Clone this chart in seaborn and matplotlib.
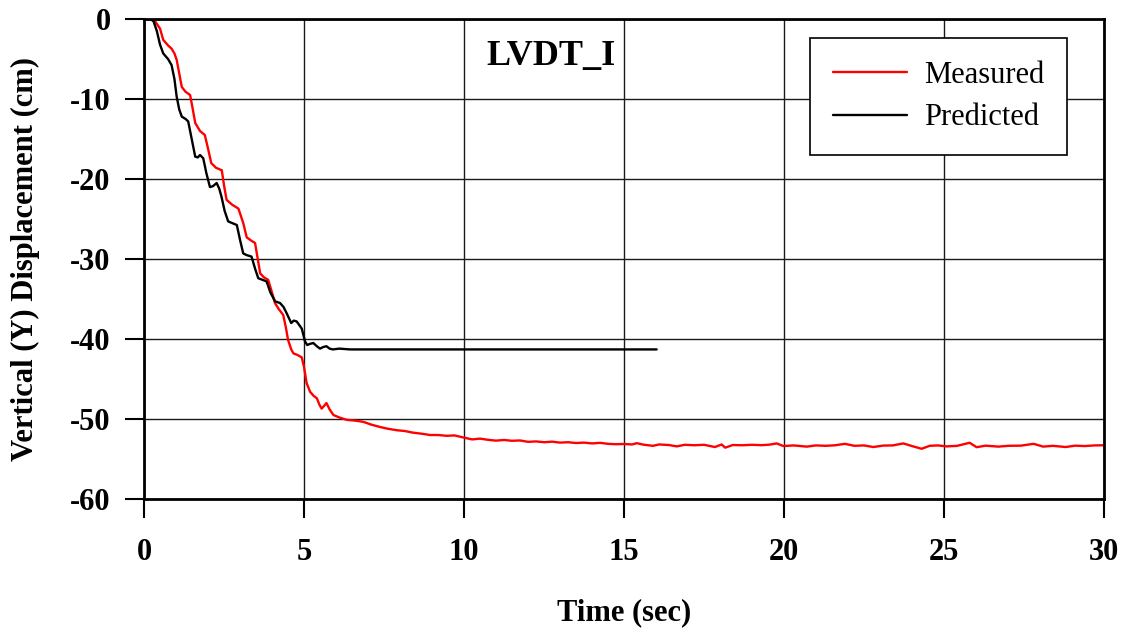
import matplotlib
matplotlib.use("Agg")
import matplotlib.pyplot as plt
import seaborn as sns
import pandas as pd

# Measured LVDT_I vertical displacement (cm) vs time (sec)
measured_t = [
    0.0, 0.2, 0.35, 0.5, 0.6, 0.75, 0.86, 0.95, 1.02, 1.1, 1.18, 1.3, 1.44,
    1.52, 1.6, 1.75, 1.9, 2.0, 2.1, 2.25, 2.43, 2.5, 2.58, 2.75, 2.95, 3.1,
    3.21, 3.35, 3.47, 3.55, 3.63, 3.75, 3.88, 4.0, 4.09, 4.2, 4.35, 4.43, 4.5,
    4.6, 4.67, 4.8, 4.93, 5.0, 5.08, 5.19, 5.3, 5.4, 5.48, 5.55, 5.62, 5.7,
    5.8, 5.92, 6.1, 6.33, 6.6, 6.85, 7.1, 7.38, 7.6, 7.9, 8.15, 8.4, 8.7,
    8.94, 9.2, 9.46, 9.7, 9.98, 10.25, 10.5, 10.75, 11.0, 11.25, 11.5, 11.75,
    12.0, 12.25, 12.5, 12.75, 13.0, 13.25, 13.5, 13.75, 14.0, 14.25, 14.5,
    14.75, 15.0, 15.25, 15.4, 15.6, 15.9, 16.1, 16.4, 16.65, 16.9, 17.2, 17.5,
    17.84, 18.05, 18.16, 18.4, 18.7, 19.0, 19.3, 19.55, 19.77, 19.98, 20.3,
    20.71, 21.0, 21.3, 21.6, 21.9, 22.2, 22.5, 22.79, 23.1, 23.4, 23.73, 24.0,
    24.3, 24.55, 24.8, 25.08, 25.4, 25.8, 26.02, 26.3, 26.7, 27.0, 27.4, 27.8,
    28.1, 28.4, 28.8, 29.1, 29.4, 29.7, 30.0,
]
measured_y = [
    0.0, 0.0, -0.3, -1.2, -2.6, -3.3, -3.7, -4.3, -5.1, -6.8, -8.5, -9.1, -9.5,
    -11.2, -13.0, -14.0, -14.5, -16.2, -18.0, -18.6, -18.9, -20.8, -22.6,
    -23.2, -23.7, -25.5, -27.3, -27.7, -28.0, -29.9, -31.8, -32.3, -32.6,
    -34.2, -35.5, -36.2, -37.0, -38.5, -40.1, -41.3, -41.8, -42.0, -42.3,
    -43.5, -45.5, -46.6, -47.1, -47.4, -48.2, -48.7, -48.4, -48.0, -48.8,
    -49.5, -49.8, -50.1, -50.2, -50.35, -50.7, -51.0, -51.2, -51.4, -51.5,
    -51.7, -51.85, -52.0, -52.0, -52.1, -52.05, -52.3, -52.55, -52.45, -52.6,
    -52.7, -52.62, -52.72, -52.68, -52.85, -52.8, -52.9, -52.83, -52.95,
    -52.9, -53.0, -52.95, -53.05, -52.98, -53.1, -53.15, -53.12, -53.18,
    -53.02, -53.2, -53.35, -53.18, -53.25, -53.42, -53.22, -53.28, -53.22,
    -53.5, -53.18, -53.58, -53.25, -53.28, -53.22, -53.27, -53.2, -53.05,
    -53.38, -53.3, -53.45, -53.3, -53.35, -53.28, -53.1, -53.35, -53.3,
    -53.5, -53.32, -53.3, -53.05, -53.38, -53.72, -53.35, -53.3, -53.42,
    -53.36, -52.97, -53.52, -53.33, -53.45, -53.35, -53.33, -53.1, -53.45,
    -53.35, -53.5, -53.33, -53.38, -53.3, -53.28,
]

# Predicted response
predicted_t = [
    0.0, 0.2, 0.3, 0.4, 0.5, 0.6, 0.75, 0.86, 0.95, 1.02, 1.1, 1.18, 1.3,
    1.38, 1.5, 1.6, 1.68, 1.75, 1.85, 1.95, 2.06, 2.15, 2.27, 2.35, 2.42,
    2.52, 2.63, 2.75, 2.9, 3.0, 3.1, 3.2, 3.36, 3.47, 3.57, 3.7, 3.83, 3.95,
    4.1, 4.25, 4.36, 4.46, 4.6, 4.68, 4.77, 4.93, 5.03, 5.1, 5.19, 5.29, 5.4,
    5.5, 5.6, 5.7, 5.8, 5.9, 6.1, 6.44, 16.02,
]
predicted_y = [
    0.0, 0.0, -0.3, -1.5, -3.2, -4.3, -5.0, -5.75, -7.5, -9.7, -11.3, -12.2,
    -12.5, -12.8, -15.2, -17.2, -17.3, -17.0, -17.4, -19.3, -21.0, -20.9,
    -20.5, -21.2, -22.2, -24.0, -25.3, -25.5, -25.75, -27.6, -29.3, -29.5,
    -29.7, -31.2, -32.4, -32.6, -32.8, -34.2, -35.3, -35.5, -36.0, -36.8,
    -38.0, -37.7, -37.8, -38.7, -40.3, -40.75, -40.6, -40.5, -40.9, -41.2,
    -41.0, -40.9, -41.2, -41.3, -41.2, -41.3, -41.3,
]

series_names = ["Measured", "Predicted"]
series_colors = ["#ff0000", "#000000"]
x_ticks = [0, 5, 10, 15, 20, 25, 30]
y_ticks = [0, -10, -20, -30, -40, -50, -60]

df = pd.concat([
    pd.DataFrame({"Time": measured_t, "Disp": measured_y, "Series": series_names[0]}),
    pd.DataFrame({"Time": predicted_t, "Disp": predicted_y, "Series": series_names[1]}),
], ignore_index=True)

sns.set_style("ticks")
plt.rcParams["font.family"] = ["Liberation Serif", "DejaVu Serif"]
plt.rcParams["text.color"] = "black"
plt.rcParams["axes.labelcolor"] = "black"
plt.rcParams["xtick.color"] = "black"
plt.rcParams["ytick.color"] = "black"

fig = plt.figure(figsize=(11.27, 6.34), dpi=100)
ax = fig.add_axes([0.1278, 0.2129, 0.8518, 0.7571])

sns.lineplot(data=df, x="Time", y="Disp", hue="Series",
             palette=dict(zip(series_names, series_colors)),
             estimator=None, sort=False, linewidth=1.7, ax=ax)

ax.set_xlim(0, 30)
ax.set_ylim(-60, 0)
ax.set_xticks(x_ticks)
ax.set_yticks(y_ticks)
ax.set_xticklabels([str(v) for v in x_ticks])
ax.set_yticklabels([str(v) for v in y_ticks])
ax.grid(True, color="#1a1a1a", linewidth=1.0)
ax.set_axisbelow(True)

for sp in ax.spines.values():
    sp.set_visible(True)
    sp.set_linewidth(2.0)
    sp.set_color("black")

ax.tick_params(axis="both", direction="out", length=14, width=1.5,
               color="black", labelcolor="black", labelsize=22)
ax.tick_params(axis="y", pad=10)
ax.tick_params(axis="x", pad=14)
for lab in ax.get_xticklabels() + ax.get_yticklabels():
    lab.set_fontweight("bold")

ax.set_xlabel("Time (sec)", fontsize=22, fontweight="bold", color="black")
ax.set_ylabel("Vertical (Y) Displacement (cm)", fontsize=22,
              fontweight="bold", color="black")
ax.xaxis.set_label_coords(0.5, -0.2375)
ax.xaxis.label.set_va("center")
ax.yaxis.set_label_coords(-0.124, 0.5)
ax.yaxis.label.set_va("center")

ax.text(0.424, 0.922, "LVDT_I", transform=ax.transAxes, ha="center",
        va="center", fontsize=26, fontweight="bold", color="black")

handles, labels = ax.get_legend_handles_labels()
leg = ax.legend(handles, labels, loc="upper right",
                bbox_to_anchor=(0.9615, 0.9604), borderaxespad=0,
                fontsize=22, frameon=True, fancybox=False, framealpha=1,
                edgecolor="black", handlelength=2.45, handletextpad=0.55,
                labelspacing=0.45, borderpad=0.74)
leg.get_frame().set_linewidth(1.2)
for txt in leg.get_texts():
    txt.set_color("black")

fig.savefig("out.png", dpi=100)
